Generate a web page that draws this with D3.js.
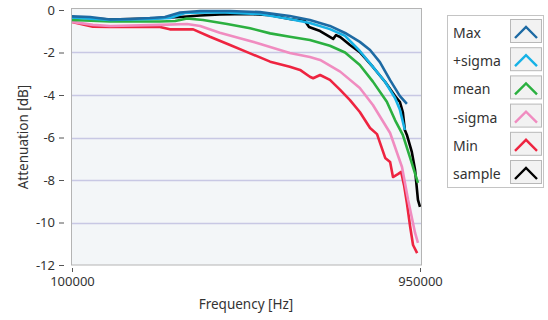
<!DOCTYPE html>
<html>
<head>
<meta charset="utf-8">
<script src="https://cdn.jsdelivr.net/npm/d3@7"></script>
<style>
  body { margin: 0; background: #fff; }
  text { font-family: "Noto Sans", "Open Sans", sans-serif; fill: #333; }
</style>
</head>
<body>
<div id="chart"></div>
<script>
// Attenuation vs frequency

var maxFreq = [100000, 144000, 193000, 242000, 290000, 327000, 364000, 413000, 486000, 559000, 632000, 681000, 730000, 767000, 803000, 828000, 852000, 877000, 901000, 918000];
var maxDb = [-0.3, -0.33, -0.45, -0.42, -0.38, -0.33, -0.12, -0.05, -0.05, -0.1, -0.28, -0.47, -0.75, -1.08, -1.5, -1.88, -2.45, -3.3, -4.05, -4.42];

var plusFreq = [100000, 193000, 290000, 339000, 376000, 461000, 559000, 632000, 681000, 730000, 767000, 803000, 835000, 865000, 889000, 901000, 913000];
var plusDb = [-0.35, -0.47, -0.42, -0.38, -0.14, -0.1, -0.19, -0.42, -0.61, -0.9, -1.22, -1.93, -2.68, -3.39, -4.14, -4.7, -5.65];

var meanFreq = [100000, 193000, 315000, 352000, 381000, 420000, 479000, 535000, 584000, 632000, 681000, 730000, 767000, 803000, 835000, 869000, 889000, 908000, 926000, 945000];
var meanDb = [-0.47, -0.54, -0.54, -0.52, -0.4, -0.47, -0.66, -0.86, -1.1, -1.26, -1.41, -1.68, -2.0, -2.59, -3.37, -4.32, -5.18, -5.88, -6.96, -8.14];

var minusFreq = [100000, 151000, 193000, 315000, 381000, 413000, 461000, 510000, 552000, 584000, 632000, 681000, 706000, 755000, 803000, 835000, 877000, 906000, 921000, 938000, 945000];
var minusDb = [-0.56, -0.7, -0.75, -0.7, -0.66, -0.75, -1.07, -1.33, -1.55, -1.74, -2.02, -2.21, -2.35, -2.9, -3.67, -4.47, -5.79, -7.39, -8.94, -10.49, -10.96];

var minFreq = [100000, 151000, 193000, 315000, 339000, 396000, 437000, 486000, 535000, 584000, 632000, 657000, 681000, 689000, 706000, 730000, 755000, 779000, 803000, 828000, 845000, 865000, 877000, 884000, 896000, 904000, 911000, 918000, 926000, 933000, 943000];
var minDb = [-0.56, -0.79, -0.8, -0.8, -0.91, -0.91, -1.26, -1.65, -2.04, -2.43, -2.67, -2.82, -3.14, -3.21, -3.06, -3.29, -3.76, -4.24, -4.8, -5.55, -5.84, -6.96, -7.15, -7.86, -7.72, -7.62, -8.24, -9.08, -10.2, -11.06, -11.44];

var sampleFreq = [100000, 193000, 290000, 339000, 364000, 413000, 461000, 535000, 584000, 632000, 669000, 679000, 706000, 738000, 745000, 755000, 779000, 803000, 835000, 865000, 889000, 901000, 908000, 913000, 918000, 930000, 938000, 945000, 950000];
var sampleDb = [-0.33, -0.45, -0.4, -0.35, -0.33, -0.26, -0.21, -0.19, -0.24, -0.42, -0.52, -0.8, -0.99, -1.36, -1.18, -1.27, -1.65, -1.98, -2.68, -3.39, -4.05, -4.33, -4.8, -5.65, -5.88, -6.68, -7.53, -8.94, -9.27];

var seriesNames = ["Max", "+sigma", "mean", "-sigma", "Min", "sample"];
var seriesColors = ["#1d6aa3", "#17b2e6", "#2bb040", "#f08cc0", "#ee2440", "#000000"];
var seriesData = [
  [maxFreq, maxDb], [plusFreq, plusDb], [meanFreq, meanDb],
  [minusFreq, minusDb], [minFreq, minDb], [sampleFreq, sampleDb]
];

var yTicks = [0, -2, -4, -6, -8, -10, -12];
var xTicks = [100000, 950000];

var svg = d3.select("#chart").append("svg")
  .attr("width", 548)
  .attr("height", 320);

var x = d3.scaleLinear().domain([100000, 950000]).range([72, 420]);
var y = d3.scaleLinear().domain([-12, 0]).range([265, 10]);

// plot area
svg.append("rect")
  .attr("x", 71.5).attr("y", 8.5)
  .attr("width", 350).attr("height", 256.5)
  .attr("fill", "#f3f6f8");

// grid
svg.append("g").selectAll("line")
  .data(yTicks.filter(d => d != 0 && d != -12))
  .enter().append("line")
  .attr("x1", 72).attr("x2", 421)
  .attr("y1", d => Math.round(y(d)) + 0.5)
  .attr("y2", d => Math.round(y(d)) + 0.5)
  .attr("stroke", "#c8c8e4")
  .attr("stroke-width", 1.5);

// lines, sample drawn first so the others sit on top
var line = d3.line()
  .x(d => x(d[0]))
  .y(d => y(d[1]));

var order = [5, 4, 3, 2, 1, 0];
var plot = svg.append("g");
order.forEach(function (i) {
  var pts = seriesData[i][0].map((f, k) => [f, seriesData[i][1][k]]);
  plot.append("path")
    .datum(pts)
    .attr("d", line)
    .attr("fill", "none")
    .attr("stroke", seriesColors[i])
    .attr("stroke-width", 2.6)
    .attr("stroke-linejoin", "round");
});

// frame
svg.append("rect")
  .attr("x", 71.5).attr("y", 8.5)
  .attr("width", 350).attr("height", 256.5)
  .attr("fill", "none")
  .attr("stroke", "#b4b4b4");

// axes
var yAxis = svg.append("g")
  .attr("transform", "translate(64,0)")
  .call(d3.axisLeft(y).tickValues(yTicks).tickSize(5).tickPadding(4).tickFormat(d => String(d)));
yAxis.select(".domain").remove();
yAxis.selectAll("line").attr("stroke", "#555");
yAxis.selectAll("text").style("font-size", "13px").attr("fill", "#333");

var xAxis = svg.append("g")
  .attr("transform", "translate(0,268)")
  .call(d3.axisBottom(x).tickValues(xTicks).tickSize(4).tickPadding(5).tickFormat(d3.format("d")));
xAxis.select(".domain").remove();
xAxis.selectAll("line").attr("stroke", "#555");
xAxis.selectAll("text").style("font-size", "13px").attr("fill", "#333");

svg.append("text")
  .attr("x", 246).attr("y", 309)
  .attr("text-anchor", "middle")
  .style("font-size", "13.5px")
  .text("Frequency [Hz]");

svg.append("text")
  .attr("transform", "translate(28,137) rotate(-90)")
  .attr("text-anchor", "middle")
  .style("font-size", "13.5px")
  .text("Attenuation [dB]");

// legend
var legend = svg.append("g");
legend.append("rect")
  .attr("x", 447.5).attr("y", 15.5)
  .attr("width", 96).attr("height", 172)
  .attr("fill", "#fff")
  .attr("stroke", "#c4c4c4");

var rows = legend.selectAll("g.row")
  .data(seriesNames)
  .enter().append("g")
  .attr("class", "row")
  .attr("transform", (d, i) => `translate(0, ${19 + i * 28.2})`);

rows.append("text")
  .attr("x", 453).attr("y", 19)
  .style("font-size", "14px")
  .text(d => d);

rows.append("rect")
  .attr("x", 510.5).attr("y", 0.5)
  .attr("width", 31).attr("height", 23)
  .attr("fill", "#f2f2f2")
  .attr("stroke", "#b8b8b8");

rows.append("path")
  .attr("d", "M515,19 L526,8 L537,19")
  .attr("fill", "none")
  .attr("stroke", (d, i) => seriesColors[i])
  .attr("stroke-width", 2.4);
</script>
</body>
</html>
